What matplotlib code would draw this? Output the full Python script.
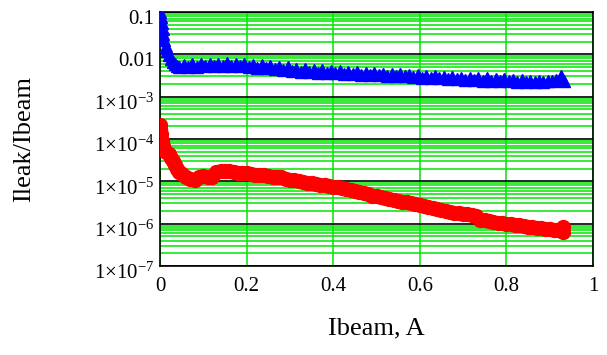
import matplotlib
matplotlib.use('Agg')
import matplotlib.pyplot as plt
import matplotlib.ticker as mticker
import matplotlib.transforms as mtransforms

# Times-like fonts, Mathcad look
plt.rcParams['font.family'] = ['Liberation Serif', 'DejaVu Serif']
plt.rcParams['mathtext.fontset'] = 'custom'
plt.rcParams['mathtext.rm'] = 'Liberation Serif'
plt.rcParams['mathtext.it'] = 'Liberation Serif:italic'
plt.rcParams['axes.unicode_minus'] = True

# blue series (triangles)
blue_x = [0.000, 0.002, 0.004, 0.006, 0.008, 0.010, 0.013, 0.016, 0.020, 0.025,
          0.030, 0.035, 0.040,
          0.045, 0.055, 0.065, 0.075, 0.085, 0.095, 0.105, 0.115, 0.125, 0.135,
          0.145, 0.155, 0.165, 0.175, 0.185, 0.195, 0.205, 0.215, 0.225, 0.235,
          0.245, 0.255, 0.265, 0.275, 0.285, 0.295, 0.305, 0.315, 0.325, 0.335,
          0.345, 0.355, 0.365, 0.375, 0.385, 0.395, 0.405, 0.415, 0.425, 0.435,
          0.445, 0.455, 0.465, 0.475, 0.485, 0.495, 0.505, 0.515, 0.525, 0.535,
          0.545, 0.555, 0.565, 0.575, 0.585, 0.595, 0.605, 0.615, 0.625, 0.635,
          0.645, 0.655, 0.665, 0.675, 0.685, 0.695, 0.705, 0.715, 0.725, 0.735,
          0.745, 0.755, 0.765, 0.775, 0.785, 0.795, 0.805, 0.815, 0.825, 0.835,
          0.845, 0.855, 0.865, 0.875, 0.885, 0.895, 0.905, 0.915, 0.925, 0.932]
blue_y = [0.1, 0.075, 0.055, 0.04, 0.03, 0.022, 0.016, 0.012, 0.0095, 0.0078,
          0.0066, 0.0058, 0.0054,
          5.0e-3, 5.6e-3, 4.9e-3, 5.8e-3, 5.1e-3, 5.9e-3, 5.2e-3, 6.0e-3, 5.3e-3, 5.9e-3,
          5.2e-3, 6.1e-3, 5.4e-3, 5.9e-3, 5.2e-3, 5.8e-3, 5.0e-3, 5.6e-3, 4.8e-3, 5.5e-3,
          4.7e-3, 5.2e-3, 4.4e-3, 5.0e-3, 4.3e-3, 4.9e-3, 4.1e-3, 4.6e-3, 3.9e-3, 4.4e-3,
          3.8e-3, 4.3e-3, 3.7e-3, 4.2e-3, 3.6e-3, 4.1e-3, 3.6e-3, 4.0e-3, 3.5e-3, 3.9e-3,
          3.4e-3, 3.8e-3, 3.3e-3, 3.7e-3, 3.3e-3, 3.6e-3, 3.2e-3, 3.5e-3, 3.1e-3, 3.5e-3,
          3.1e-3, 3.4e-3, 3.0e-3, 3.3e-3, 2.9e-3, 3.2e-3, 2.8e-3, 3.1e-3, 2.8e-3, 3.0e-3,
          2.7e-3, 2.9e-3, 2.6e-3, 2.9e-3, 2.6e-3, 2.8e-3, 2.5e-3, 2.8e-3, 2.5e-3, 2.7e-3,
          2.4e-3, 2.7e-3, 2.4e-3, 2.6e-3, 2.3e-3, 2.6e-3, 2.3e-3, 2.5e-3, 2.2e-3, 2.5e-3,
          2.2e-3, 2.4e-3, 2.2e-3, 2.4e-3, 2.2e-3, 2.4e-3, 2.3e-3, 2.5e-3, 3.0e-3, 2.4e-3]

# red series (circles)
red_x = [0.000, 0.001, 0.002, 0.004, 0.006, 0.008, 0.010, 0.015, 0.020, 0.025,
         0.030, 0.035, 0.040, 0.045, 0.050, 0.060, 0.070, 0.080, 0.090, 0.100,
         0.110, 0.120, 0.130, 0.140, 0.150, 0.160, 0.170, 0.180, 0.190, 0.200,
         0.210, 0.220, 0.230, 0.240, 0.250, 0.260, 0.270, 0.280, 0.290, 0.300,
         0.310, 0.320, 0.330, 0.340, 0.350, 0.360, 0.370, 0.380, 0.390, 0.400,
         0.410, 0.420, 0.430, 0.440, 0.450, 0.460, 0.470, 0.480, 0.490, 0.500,
         0.510, 0.520, 0.530, 0.540, 0.550, 0.560, 0.570, 0.580, 0.590, 0.600,
         0.610, 0.620, 0.630, 0.640, 0.650, 0.660, 0.670, 0.680, 0.690, 0.700,
         0.710, 0.720, 0.730, 0.740, 0.750, 0.760, 0.770, 0.780, 0.790, 0.800,
         0.810, 0.820, 0.830, 0.840, 0.850, 0.860, 0.870, 0.880, 0.890, 0.900,
         0.910, 0.920, 0.930, 0.930]
red_y = [2.2e-4, 1.7e-4, 1.3e-4, 9.0e-5, 7.0e-5, 6.0e-5, 5.5e-5, 5.0e-5, 4.4e-5, 3.6e-5,
         3.0e-5, 2.4e-5, 2.0e-5, 1.7e-5, 1.5e-5, 1.3e-5, 1.15e-5, 1.05e-5, 1.3e-5, 1.35e-5,
         1.25e-5, 1.3e-5, 1.7e-5, 1.8e-5, 1.8e-5, 1.75e-5, 1.7e-5, 1.6e-5, 1.6e-5, 1.55e-5,
         1.5e-5, 1.45e-5, 1.45e-5, 1.4e-5, 1.35e-5, 1.3e-5, 1.3e-5, 1.25e-5, 1.15e-5, 1.1e-5,
         1.05e-5, 1.0e-5, 9.5e-6, 9.2e-6, 9.0e-6, 8.6e-6, 8.3e-6, 8.0e-6, 7.8e-6, 7.5e-6,
         7.2e-6, 6.9e-6, 6.5e-6, 6.1e-6, 5.8e-6, 5.5e-6, 5.2e-6, 4.9e-6, 4.6e-6, 4.4e-6,
         4.2e-6, 4.0e-6, 3.8e-6, 3.6e-6, 3.5e-6, 3.3e-6, 3.2e-6, 3.0e-6, 2.9e-6, 2.8e-6,
         2.6e-6, 2.5e-6, 2.3e-6, 2.2e-6, 2.1e-6, 2.0e-6, 1.9e-6, 1.8e-6, 1.75e-6, 1.7e-6,
         1.65e-6, 1.6e-6, 1.5e-6, 1.25e-6, 1.2e-6, 1.15e-6, 1.1e-6, 1.05e-6, 1.02e-6, 1.0e-6,
         9.7e-7, 9.4e-7, 9.1e-7, 8.8e-7, 8.5e-7, 8.2e-7, 8.0e-7, 7.7e-7, 7.5e-7, 7.3e-7,
         7.1e-7, 7.0e-7, 8.5e-7, 6.2e-7]

y_ticks = [1e-1, 1e-2, 1e-3, 1e-4, 1e-5, 1e-6, 1e-7]
y_labels = ['0.1', '0.01', r'1×10$^{\mathregular{-3}}$', r'1×10$^{\mathregular{-4}}$',
            r'1×10$^{\mathregular{-5}}$', r'1×10$^{\mathregular{-6}}$', r'1×10$^{\mathregular{-7}}$']
x_ticks = [0, 0.2, 0.4, 0.6, 0.8, 1.0]
x_labels = ['0', '0.2', '0.4', '0.6', '0.8', '1']

green = '#00e600'

fig = plt.figure(figsize=(6.07, 3.55), dpi=100)
ax = fig.add_axes([160 / 607, 1 - 266 / 355, 433 / 607, 254 / 355])

ax.set_yscale('log')
ax.set_xlim(0, 1)
ax.set_ylim(1e-7, 1e-1)

# grid: green minors and verticals, black major horizontals
ax.yaxis.set_minor_locator(mticker.LogLocator(base=10, subs=range(2, 10), numticks=20))
ax.yaxis.set_minor_formatter(mticker.NullFormatter())
ax.grid(True, which='minor', axis='y', color=green, lw=1.1, zorder=0)
ax.grid(True, which='major', axis='x', color=green, lw=1.1, zorder=0)
ax.grid(True, which='major', axis='y', color='black', lw=1.2, zorder=0)
ax.set_axisbelow(True)

ax.plot(red_x, red_y, 'o', color='red', ms=10, mec='red', zorder=3)
ax.plot(blue_x, blue_y, '^', color='blue', ms=8, mec='blue', zorder=4)

ax.set_yticks(y_ticks)
ax.set_yticklabels(y_labels)
ax.set_xticks(x_ticks)
ax.set_xticklabels(x_labels)
ax.tick_params(axis='both', which='both', length=0, labelsize=15)
ax.tick_params(axis='y', pad=4)
ax.tick_params(axis='x', pad=8)

# Mathcad puts y labels a bit below their line
offset = mtransforms.ScaledTranslation(0, -5 / 100, fig.dpi_scale_trans)
for lab in ax.get_yticklabels():
    lab.set_transform(lab.get_transform() + offset)

for sp in ax.spines.values():
    sp.set_color('black')
    sp.set_linewidth(1.2)

fig.text(24 / 607, 1 - 139 / 355, 'Ileak/Ibeam', rotation=90, ha='center', va='center', fontsize=19)
fig.text(376 / 607, 1 - 328 / 355, 'Ibeam, A', ha='center', va='center', fontsize=19)

fig.savefig('out.png', dpi=100)
